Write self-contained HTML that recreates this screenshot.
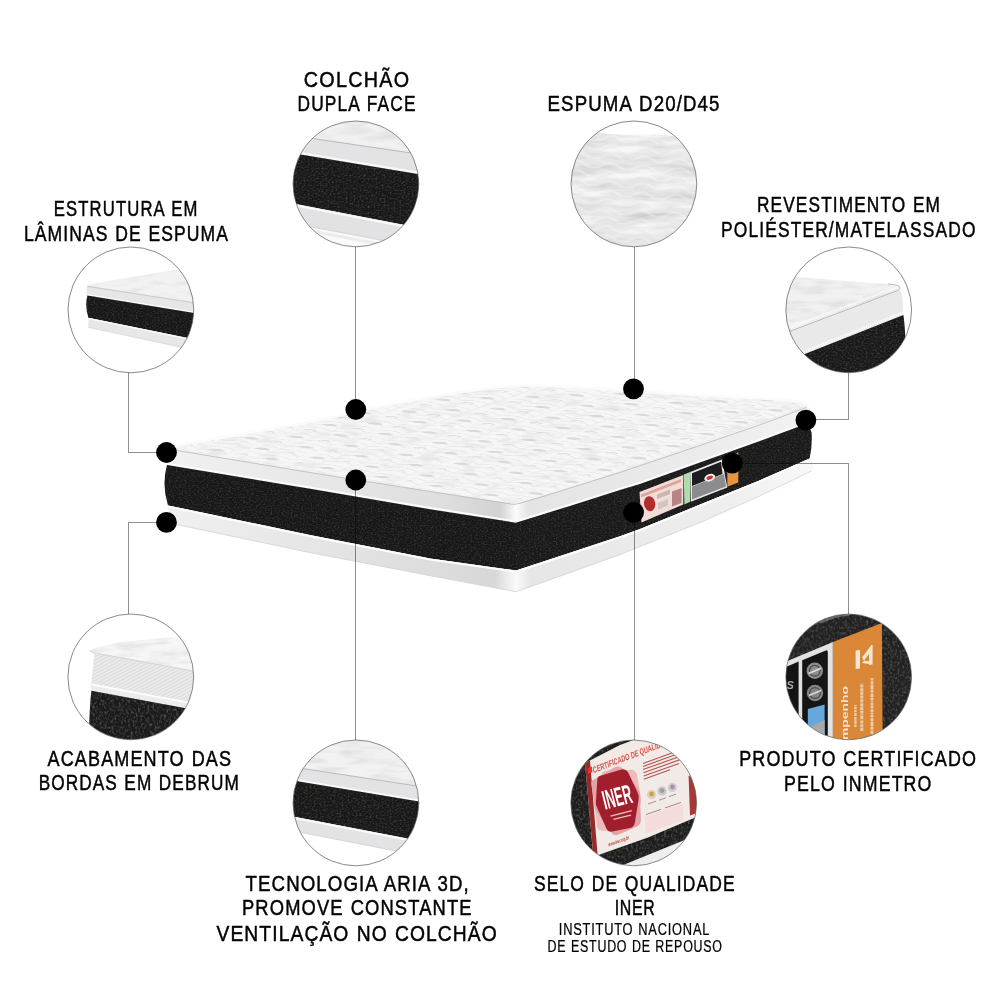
<!DOCTYPE html>
<html lang="pt-BR">
<head>
<meta charset="utf-8">
<title>Colchão</title>
<style>
html,body{margin:0;padding:0;background:#fff;}
body{width:1000px;height:1000px;overflow:hidden;}
svg{display:block;}
.lbl text{font-family:"Liberation Sans",sans-serif;fill:#000;stroke:#000;stroke-width:0.5px;}
</style>
</head>
<body>
<svg width="1000" height="1000" viewBox="0 0 1000 1000">
<rect width="1000" height="1000" fill="#fff"/>
<defs>
  <clipPath id="c1"><circle cx="355.9" cy="183.9" r="62.7"/></clipPath>
  <clipPath id="c2"><circle cx="130.9" cy="309.9" r="62.7"/></clipPath>
  <clipPath id="c3"><circle cx="633.9" cy="183.9" r="62.7"/></clipPath>
  <clipPath id="c4"><circle cx="848.7" cy="309.9" r="62.7"/></clipPath>
  <clipPath id="c5"><circle cx="130.8" cy="676.9" r="62.7"/></clipPath>
  <clipPath id="c6"><circle cx="355.9" cy="802.9" r="62.7"/></clipPath>
  <clipPath id="c7"><circle cx="633.7" cy="802.9" r="62.7"/></clipPath>
  <clipPath id="c8"><circle cx="848.7" cy="676.9" r="62.7"/></clipPath>

  <!-- woven black fabric texture -->
  <filter id="fab" x="0" y="0" width="100%" height="100%" color-interpolation-filters="sRGB">
    <feTurbulence type="fractalNoise" baseFrequency="0.55 0.7" numOctaves="2" seed="7" result="n"/>
    <feColorMatrix in="n" type="matrix" values="0 0 0 0 0.27  0 0 0 0 0.27  0 0 0 0 0.26  1.5 1.1 0 0 -1.2" result="sp"/>
    <feComposite in="sp" in2="SourceAlpha" operator="in" result="spc"/>
    <feMerge><feMergeNode in="SourceGraphic"/><feMergeNode in="spc"/></feMerge>
  </filter>
  <filter id="fabBig" x="0" y="0" width="100%" height="100%" color-interpolation-filters="sRGB">
    <feTurbulence type="fractalNoise" baseFrequency="0.5 0.6" numOctaves="2" seed="11" result="n"/>
    <feColorMatrix in="n" type="matrix" values="0 0 0 0 0.28  0 0 0 0 0.28  0 0 0 0 0.27  1.5 1.1 0 0 -1.16" result="sp"/>
    <feComposite in="sp" in2="SourceAlpha" operator="in" result="spc"/>
    <feMerge><feMergeNode in="SourceGraphic"/><feMergeNode in="spc"/></feMerge>
  </filter>
  <filter id="fabCoarse" x="0" y="0" width="100%" height="100%" color-interpolation-filters="sRGB">
    <feTurbulence type="fractalNoise" baseFrequency="0.42 0.34" numOctaves="2" seed="4" result="n"/>
    <feColorMatrix in="n" type="matrix" values="0 0 0 0 0.36  0 0 0 0 0.36  0 0 0 0 0.35  1.6 1.2 0 0 -1.28" result="sp"/>
    <feComposite in="sp" in2="SourceAlpha" operator="in" result="spc"/>
    <feMerge><feMergeNode in="SourceGraphic"/><feMergeNode in="spc"/></feMerge>
  </filter>
  <!-- quilt texture -->
  <filter id="quilt" x="0" y="0" width="100%" height="100%" color-interpolation-filters="sRGB">
    <feTurbulence type="fractalNoise" baseFrequency="0.05 0.16" numOctaves="2" seed="5" result="n"/>
    <feColorMatrix in="n" type="matrix" values="0 0 0 0 0.88  0 0 0 0 0.88  0 0 0 0 0.88  1.5 1.1 0 0 -1.3" result="sp"/>
    <feComposite in="sp" in2="SourceAlpha" operator="in" result="spc"/>
    <feMerge><feMergeNode in="SourceGraphic"/><feMergeNode in="spc"/></feMerge>
  </filter>
  <filter id="soft03" x="0" y="0" width="100%" height="100%"><feGaussianBlur stdDeviation="0.45"/></filter>
  <filter id="soft" x="-5%" y="-5%" width="110%" height="110%"><feGaussianBlur stdDeviation="0.6"/></filter>
  <filter id="soft2" x="-5%" y="-5%" width="110%" height="110%"><feGaussianBlur stdDeviation="1.2"/></filter>

  <pattern id="qp" width="56" height="36" patternUnits="userSpaceOnUse" patternTransform="matrix(0.98 0.16 -0.95 0.33 0 0)">
    <g fill="none" stroke="#e3e3e3" stroke-width="1.1">
      <path d="M0,4.5 Q14,-3.5 28,4.5 Q42,-3.5 56,4.5"/>
      <path d="M0,13.5 Q14,5.5 28,13.5 Q42,5.5 56,13.5"/>
      <path d="M0,22.5 Q14,14.5 28,22.5 Q42,14.5 56,22.5"/>
      <path d="M0,31.5 Q14,23.5 28,31.5 Q42,23.5 56,31.5"/>
    </g>
    <g stroke="#eaeaea" stroke-width="1.4"><path d="M0,0 V36 M28,0 V36"/></g>
    <path d="M7,10 Q14,3 22,8.5 Q15,14 7,10 Z" fill="#d6d6d6"/>
    <path d="M35,28 Q42,21 50,26.5 Q43,32 35,28 Z" fill="#d8d8d8"/>
    <path d="M5,27 Q10,22.5 16,25.5" stroke="#d9d9d9" stroke-width="1.6" fill="none"/>
    <path d="M36,9 Q41,4.5 47,7.5" stroke="#d9d9d9" stroke-width="1.6" fill="none"/>
  </pattern>

  <filter id="quiltBig" x="0" y="0" width="100%" height="100%" color-interpolation-filters="sRGB">
    <feTurbulence type="fractalNoise" baseFrequency="0.035 0.14" numOctaves="3" seed="9" result="n"/>
    <feColorMatrix in="n" type="matrix" values="0 0 0 0 0.87  0 0 0 0 0.87  0 0 0 0 0.87  1.7 1.3 0 0 -1.35" result="sp"/>
    <feComposite in="sp" in2="SourceAlpha" operator="in" result="spc"/>
    <feMerge><feMergeNode in="SourceGraphic"/><feMergeNode in="spc"/></feMerge>
  </filter>
  <pattern id="waves" width="34" height="9" patternUnits="userSpaceOnUse" patternTransform="rotate(4)">
    <path d="M0,6 Q8.5,0 17,6 T34,6" fill="none" stroke="#f8f8f8" stroke-width="2.2"/>
    <path d="M0,8.4 Q8.5,2.4 17,8.4 T34,8.4" fill="none" stroke="#e0e0e0" stroke-width="0.8"/>
  </pattern>
  <pattern id="twill" width="3" height="3" patternUnits="userSpaceOnUse" patternTransform="rotate(-28)">
    <rect width="3" height="3" fill="#ebebeb"/>
    <rect width="3" height="1.1" fill="#dcdcdc"/>
  </pattern>

  <filter id="ripple" x="0" y="0" width="100%" height="100%" color-interpolation-filters="sRGB">
    <feTurbulence type="fractalNoise" baseFrequency="0.018 0.11" numOctaves="3" seed="21" result="n"/>
    <feColorMatrix in="n" type="matrix" values="0 0 0 0 0.97  0 0 0 0 0.97  0 0 0 0 0.97  3.6 2.6 0 0 -3.2" result="hi"/>
    <feColorMatrix in="n" type="matrix" values="0 0 0 0 0.80  0 0 0 0 0.80  0 0 0 0 0.80  -2.6 -1.8 0 0 2.0" result="lo"/>
    <feMerge result="m"><feMergeNode in="SourceGraphic"/><feMergeNode in="lo"/><feMergeNode in="hi"/></feMerge>
    <feComposite in="m" in2="SourceAlpha" operator="in"/>
  </filter>

  <linearGradient id="bandL" gradientUnits="userSpaceOnUse" x1="166" y1="0" x2="516" y2="0">
    <stop offset="0" stop-color="#f1f1f1"/>
    <stop offset="0.35" stop-color="#e9e9e9"/>
    <stop offset="0.8" stop-color="#dedede"/>
    <stop offset="0.955" stop-color="#d2d2d2"/>
    <stop offset="1" stop-color="#fafafa"/>
  </linearGradient>
  <linearGradient id="bandR" gradientUnits="userSpaceOnUse" x1="516" y1="0" x2="812" y2="0">
    <stop offset="0" stop-color="#fafafa"/>
    <stop offset="0.04" stop-color="#e4e4e4"/>
    <stop offset="0.6" stop-color="#ebebeb"/>
    <stop offset="1" stop-color="#f2f2f2"/>
  </linearGradient>
  <linearGradient id="bandL2" gradientUnits="userSpaceOnUse" x1="166" y1="0" x2="516" y2="0">
    <stop offset="0" stop-color="#f0f0f0"/>
    <stop offset="0.4" stop-color="#e6e6e6"/>
    <stop offset="0.94" stop-color="#d8d8d8"/>
    <stop offset="1" stop-color="#fafafa"/>
  </linearGradient>
  <linearGradient id="bandR2" gradientUnits="userSpaceOnUse" x1="516" y1="0" x2="812" y2="0">
    <stop offset="0" stop-color="#fafafa"/>
    <stop offset="0.05" stop-color="#e6e6e6"/>
    <stop offset="0.7" stop-color="#eeeeee"/>
    <stop offset="1" stop-color="#f8f8f8"/>
  </linearGradient>
</defs>
<!-- mattress -->
<g id="mattress">
  <path d="M175,446 L300,424 L356,411.5 L400,402.5 L460,392 L500,387 Q524,384.5 560,386.5 L632,390.5 L700,395.5 L789,400 Q806,401.5 809,405 L806.4,407 L760,424.2 L700,444.8 L620,471.8 L540,496.8 L520,502.6 Q514,505 508,503 L430,491 L310,472 L177,450 Z" fill="#f6f6f6" filter="url(#quilt)"/>
  <path d="M175,446 L300,424 L356,411.5 L400,402.5 L460,392 L500,387 Q524,384.5 560,386.5 L632,390.5 L700,395.5 L789,400 Q806,401.5 809,405 L806.4,407 L760,424.2 L700,444.8 L620,471.8 L540,496.8 L520,502.6 Q514,505 508,503 L430,491 L310,472 L177,450 Z" fill="url(#qp)" opacity="0.9" filter="url(#soft03)"/>
  <path d="M175,446 L300,424 L356,411.5 L400,402.5 L460,392 L500,387 Q524,384.5 560,386.5 L632,390.5 L700,395.5 L789,400 Q806,401.5 809,405" fill="none" stroke="#fbfbfb" stroke-width="2.5" filter="url(#soft)"/>
  <path d="M170,449 L177,450 L310,472 L430,491 L508,503 L514,504 L516,522.7 L430,509.2 L310,488.8 L166.5,465 Q165,456 170,449 Z" fill="url(#bandL)"/>
  <path d="M514,504 L520,502.6 L540,496.8 L620,471.8 L700,444.8 L760,424.2 L806.4,406.8 Q811,408 811.5,414 L812,428 L798.4,426.8 L760,441 L700,462.4 L640,484 L620,490 L570,505.9 L516,522.7 Z" fill="url(#bandR)"/>
  <path d="M177,450.5 L310,472.5 L430,491.5 L508,503.5 Q514,505.6 520,503.20000000000005 L540,497.4 L620,472.4 L700,445.4 L760,424.8 L806.4,407.4" fill="none" stroke="#bdbdbd" stroke-width="0.9"/>
  <path d="M166.5,463.7 L310,487.5 L430,507.9 L516,521.4 L570,504.6 L620,488.7 L640,482.7 L700,461.1 L760,439.7 L798.4,425.5" fill="none" stroke="#fbfbfb" stroke-width="2"/>
  <path d="M167,465 L310,488.8 L430,509.2 L516,522.7 L516,570.5 L430,558.4 L310,535 L168,505.4 Q161.5,485 167,465 Z" fill="#171717" filter="url(#fab)"/>
  <path d="M516,522.7 L570,505.9 L620,490 L640,484 L700,462.4 L760,441 L798.4,426.8 Q810,426 811.5,432 Q812.5,445 809.6,458.4 L760,480.2 L700,504.6 L640,529 L620,536.2 L570,552.8 L516,570.5 Z" fill="#191919" filter="url(#fab)"/>
  <path d="M168,505.4 L310,535 L430,558.4 L516,570.5 L516,592.2 L430,576 L310,553 L177,525 Q168,516 168,505.4 Z" fill="url(#bandL2)"/>
  <path d="M516,570.5 L570,552.8 L620,536.2 L640,529 L700,504.6 L760,480.2 L809.6,458.4 L812,457.6 L813,468 L811.5,471.4 L760,496.3 L700,523 L620,555 L570,573 L516,592.2 Z" fill="url(#bandR2)"/>
  <path d="M168,506.6 L310,536.2 L430,559.6 L516,571.7 L570,554 L620,537.4 L640,530.2 L700,505.8 L760,481.4 L809.6,459.6" fill="none" stroke="#fcfcfc" stroke-width="2"/>
  <path d="M177,524.5 L310,552.5 L430,575.5 L516,591.7 L570,572.5 L620,554.5 L700,522.5 L760,495.8 L811.5,470.9" fill="none" stroke="#d6d6d6" stroke-width="0.8"/>
  <!-- labels on right face -->
  <g id="labels">
    <path d="M639.5,492 L683.3,475.1 L683.3,504.4 L641.5,522.6 Z" fill="#f1ddd8"/>
    <path d="M641,494.5 L681,479 L681,482 L641,497.6 Z" fill="#e2a39c"/>
    <ellipse cx="649.6" cy="503.7" rx="5.6" ry="7.6" fill="#b32c2e" transform="rotate(-8 649.6 503.7)"/>
    <path d="M672,491.6 L681.6,488 L681.6,503 L672,506.6 Z" fill="#b98484"/>
    <path d="M657,494.5 L670,489.6 L670,494 L657,499 Z" fill="#c9b6b2"/>
    <path d="M658,503 L668,499 L668,505.5 L658,509.6 Z" fill="#d2c4c0"/>
    <path d="M683.7,474.5 L690.2,471.9 L690.2,501.8 L684.4,504.4 Z" fill="#aedcaa"/>
    <path d="M690.2,471.9 L722,459.5 L727.3,487.5 L690.9,501.8 Z" fill="#e8e8e8"/>
    <path d="M692,473.2 L721,461.8 L722.5,474 L692,486 Z" fill="#1d1d1f"/>
    <path d="M692,486.6 L724,474 L726,486.6 L692,499.6 Z" fill="#8c8c8e"/>
    <ellipse cx="709.7" cy="477.7" rx="5.6" ry="3.6" fill="#f4f4f4" transform="rotate(-20 709.7 477.7)"/>
    <ellipse cx="709.7" cy="477.7" rx="3.4" ry="1.9" fill="#c8383a" transform="rotate(-20 709.7 477.7)"/>
    <path d="M727.3,456.6 L738.3,452.4 L738.3,482.6 L727.3,486.8 Z" fill="#e8943c"/>
  </g>
</g>
<!-- connector lines -->
<g fill="none" stroke="#000" stroke-opacity="0.44" stroke-width="1">
  <path d="M355.5,247 V409"/>
  <path d="M355.5,480 V740"/>
  <path d="M634.5,247 V389"/>
  <path d="M634.5,512 V740"/>
  <path d="M128.5,372.5 V452.5 H167"/>
  <path d="M128.5,614 V522.5 H167"/>
  <path d="M848.5,373 V419.5 H806"/>
  <path d="M848.5,614 V463.5 H732"/>
</g>
<!-- dots -->
<g fill="#000">
  <circle cx="166.5" cy="452.5" r="10.4"/>
  <circle cx="166.5" cy="522.4" r="10.4"/>
  <circle cx="355.8" cy="409.5" r="10.4"/>
  <circle cx="355.8" cy="480" r="10.4"/>
  <circle cx="633.5" cy="388.8" r="10.4"/>
  <circle cx="805.9" cy="420.1" r="10.4"/>
  <circle cx="732.2" cy="463.2" r="10.4"/>
  <circle cx="633.6" cy="512.3" r="10.4"/>
</g>
<!-- inset circles -->
<!-- 1: colchão dupla face -->
<g clip-path="url(#c1)">
  <rect x="290" y="118" width="132" height="132" fill="#fafafa"/>
  <path d="M290,118 H422 V154.3 L290,134.9 Z" fill="#f1f1f1" filter="url(#quiltBig)"/>
  <path d="M290,134.9 L422,154.3 V174.8 L290,152.8 Z" fill="#e3e3e5"/>
  <path d="M290,135.2 L422,154.6" stroke="#b4b4b4" stroke-width="0.9" fill="none"/>
  <path d="M290,151.4 L422,173.4" stroke="#f8f8f8" stroke-width="2.2" fill="none"/>
  <path d="M290,152.8 L422,174.8 V228.4 L290,203 Z" fill="#171717" filter="url(#fabBig)"/>
  <path d="M290,203 L422,228.4 V247.9 L290,222.8 Z" fill="#e2e2e4"/>
  <path d="M290,204.2 L422,229.6" stroke="#f9f9f9" stroke-width="2.2" fill="none"/>
  <path d="M290,222.8 L422,247.9" stroke="#cdcdcd" stroke-width="0.8" fill="none"/>
  <path d="M290,227 L422,252" stroke="#ececec" stroke-width="3" fill="none"/>
</g>
<!-- 2: estrutura em lâminas -->
<g clip-path="url(#c2)">
  <rect x="66" y="246" width="130" height="130" fill="#fff"/>
  <path d="M86.9,284.8 L120,279 L174.4,270.1 Q185,270 196,276 V302.8 L87.6,286.2 Z" fill="#f2f2f2" filter="url(#quilt)"/>
  <path d="M87,285.6 L196,302.8 V313.3 L86.6,295.3 Z" fill="#e6e6e6"/>
  <path d="M87.6,286.4 L196,303" stroke="#bcbcbc" stroke-width="0.7" fill="none"/>
  <path d="M86.6,294.6 L196,312.6" stroke="#fafafa" stroke-width="1.4" fill="none"/>
  <path d="M87.4,295.4 L196,313.3 V339.7 L88.4,317.8 Q84.6,306 87.4,295.4 Z" fill="#171717" filter="url(#fab)"/>
  <path d="M88.4,317.8 L196,339.7 V350.6 L88.3,327.5 Z" fill="#e7e7e7"/>
  <path d="M88.4,318.6 L196,340.5" stroke="#fbfbfb" stroke-width="1.4" fill="none"/>
  <path d="M88.3,327.3 L196,350.4" stroke="#d4d4d4" stroke-width="0.7" fill="none"/>
</g>
<!-- 3: espuma -->
<g clip-path="url(#c3)">
  <rect x="570" y="120" width="130" height="130" fill="#e6e6e6" filter="url(#ripple)"/>
  <rect x="570" y="120" width="130" height="130" fill="url(#waves)" opacity="0.35"/>
  <path d="M570,118 H700 V137 Q690,137.5 682,136.5 Q660,134 640,134.6 Q620,135 608,134 Q598,132.4 590,132.6 Q580,133 570,137 Z" fill="#fff"/>
</g>
<!-- 4: revestimento -->
<g clip-path="url(#c4)">
  <rect x="784" y="246" width="130" height="130" fill="#fff"/>
  <path d="M780,282 Q790,276 797.2,277.1 L835,280 L877,283.4 Q892,284 898,285.5 Q901.5,287 899.4,289.4 L790.9,330.3 L780,334 Z" fill="#f1f1f1" filter="url(#quiltBig)"/>
  <path d="M780,334 L790.9,330.3 L899.4,289.4 Q902,293 902.6,300 L903.4,314.6 L804.2,353.8 L780,363 Z" fill="#e9e9e9"/>
  <path d="M780,334.6 L790.9,330.9 L897.6,290.6 Q901.6,288.6 898.6,285.8 Q895,284.4 888,284" stroke="#b4b4b4" stroke-width="0.9" fill="none"/>
  <path d="M780,330.6 L790.9,327 L898,287" stroke="#fbfbfb" stroke-width="2.4" fill="none" stroke-dasharray="1.2 0.8"/>
  <path d="M780,360.6 L804.2,351.4 L903.2,312.4" stroke="#fbfbfb" stroke-width="2.6" fill="none" stroke-dasharray="1.4 0.9"/>
  <path d="M780,363.4 L804.2,354.2 L903.4,315 Q905,326 905.6,345 L908,380 H780 Z" fill="#181818" filter="url(#fabBig)"/>
</g>
<!-- 5: acabamento -->
<g clip-path="url(#c5)">
  <rect x="66" y="612" width="130" height="130" fill="#fff"/>
  <path d="M94.6,652 L196,668 V708 L91,686 Z" fill="url(#twill)"/>
  <path d="M89,650.4 Q100,646 117,642.7 L173,637 Q185,636 196,638 V671 L150,662.5 L110,655 Q92,653 89,650.4 Z" fill="#f6f6f6" filter="url(#quiltBig)"/>
  <path d="M89.4,651 Q93,653.4 110,655.8 L150,663.2 L196,671.6" stroke="#d2d2d2" stroke-width="0.9" fill="none"/>
  <path d="M91.4,684.4 Q90,687.4 91.6,690.4 L184,707.4 L196,709.6 V703 L186,701.6 L92.4,683.6 Z" fill="#ececec"/>
  <path d="M92,684.6 L196,704" stroke="#fdfdfd" stroke-width="1.6" fill="none"/>
  <path d="M91.4,690.8 L196,710 V745 H89.4 Q88.6,715 91.4,690.8 Z" fill="#1a1a1a" filter="url(#fabCoarse)"/>
</g>
<!-- 6: tecnologia aria 3d -->
<g clip-path="url(#c6)">
  <rect x="290" y="738" width="132" height="132" fill="#fff"/>
  <path d="M290,738 H422 V786.5 L290,766.3 Z" fill="#f2f2f2" filter="url(#quiltBig)"/>
  <path d="M290,766.3 L422,786.5 V802.1 L290,780.1 Z" fill="#e3e3e5"/>
  <path d="M290,766.6 L422,786.8" stroke="#b4b4b4" stroke-width="0.9" fill="none"/>
  <path d="M290,778.9 L422,800.9" stroke="#f9f9f9" stroke-width="2" fill="none"/>
  <path d="M290,780.1 L422,802.1 V841.4 L290,816 Z" fill="#171717" filter="url(#fabBig)"/>
  <path d="M290,816 L422,841.4 V856.1 L290,830.3 Z" fill="#e3e3e5"/>
  <path d="M290,817.2 L422,842.6" stroke="#fafafa" stroke-width="2" fill="none"/>
  <path d="M290,830.3 L422,856.1" stroke="#cfcfcf" stroke-width="0.8" fill="none"/>
</g>
<!-- 7: selo INER -->
<g clip-path="url(#c7)" opacity="0.999">
  <rect x="570" y="738" width="130" height="130" fill="#1c1c1c" filter="url(#fabCoarse)"/>
  <path d="M585,763.1 L620,745 L660,730 L700,730 V815.4 L648,837.4 L593.4,856.8 Z" fill="#f1eae7"/>
  <path d="M585,763.1 L590,760.6 L597.6,855.2 L593.4,856.8 Z" fill="#962a2b"/>
  <path d="M587.6,768.2 L591.9,766.6 L592.4,772.2 L588.1,773.8 Z" fill="#e3342f"/>
  <!-- seal -->
  <g transform="translate(617.9 800.2) rotate(-14)">
    <path d="M-13,-29 L12,-31 Q16,-31 18,-27 L23,-3 Q24,1 22,5 L12,28 Q10,32 5,32 L-15,31 Q-19,31 -20,27 L-24,2 Q-25,-2 -23,-6 L-17,-26 Q-16,-29 -13,-29 Z" fill="#ecbcbc" transform="rotate(16)"/>
    <path d="M-13,-29 L12,-31 Q16,-31 18,-27 L23,-3 Q24,1 22,5 L12,28 Q10,32 5,32 L-15,31 Q-19,31 -20,27 L-24,2 Q-25,-2 -23,-6 L-17,-26 Q-16,-29 -13,-29 Z" fill="#e3a3a6" transform="rotate(-12)"/>
    <path d="M-11,-28 L11,-29 Q15,-29 16.6,-25 L21,-3 Q22,1 20,5 L11,26 Q9,30 5,30 L-13,29 Q-17,29 -18,25 L-22,2 Q-23,-2 -21,-6 L-15,-25 Q-14,-28 -11,-28 Z" fill="#a11f2c"/>
    <text x="0" y="6" text-anchor="middle" font-family="'Liberation Sans',sans-serif" font-weight="bold" font-size="27" fill="#fff" transform="scale(0.62 1)" textLength="48" lengthAdjust="spacingAndGlyphs">INER</text>
    <path d="M-11,13.6 H11 M-9,17.6 H9" stroke="#e8c4c4" stroke-width="1.3" fill="none"/>
  </g>
  <!-- header -->
  <text transform="translate(593.6 773.2) rotate(-21) skewX(-10)" font-family="'Liberation Sans',sans-serif" font-weight="bold" font-size="8.8" fill="#d9534a" textLength="84" lengthAdjust="spacingAndGlyphs">CERTIFICADO DE QUALIDADE</text>
  <!-- text lines -->
  <g stroke="#b0423f" stroke-width="1.1" fill="none" opacity="0.9">
    <path d="M643,763.4 L683,749"/>
    <path d="M643,766.4 L683,752"/>
    <path d="M643,769.6 L681,756"/>
    <path d="M643.4,772.8 L683,758.6"/>
    <path d="M643.6,776 L679,763.4"/>
    <path d="M643.8,779.2 L670,769.8"/>
  </g>
  <!-- medals -->
  <g>
    <circle cx="651.6" cy="794.6" r="4.6" fill="#d9d2c4"/><circle cx="651.6" cy="794" r="2.4" fill="#c9a43a"/>
    <circle cx="662" cy="791" r="4.6" fill="#c9c9cc"/><circle cx="662" cy="790.6" r="2.4" fill="#9c9ca4"/>
    <circle cx="672.4" cy="787.4" r="4.6" fill="#cfcfd3"/><circle cx="672.4" cy="787" r="2.4" fill="#b08fa4"/>
    <path d="M648,804 L656,801.2 M659,800.2 L666,797.8 M669,796.6 L676,794.2" stroke="#9a8a8a" stroke-width="0.9"/>
  </g>
  <path d="M645,817 L683,803.4 L683.6,820 L645.6,833.6 Z" fill="#f4dcdc"/>
  <path d="M646,814.6 L661,809.4 M665,808 L681,802.4" stroke="#8e6a6a" stroke-width="0.8"/>
  <text transform="translate(608.6 846.6) rotate(-20) skewX(-10)" font-family="'Liberation Sans',sans-serif" font-weight="bold" font-size="5.2" fill="#b63a36" textLength="22" lengthAdjust="spacingAndGlyphs">www.iner.org.br</text>
  <!-- right red strip -->
  <path d="M688.6,776 L700,772 V812 L690,815.6 Z" fill="#a83a36"/>
  <!-- bottom white band -->
  <path d="M620.8,866 L685.8,839.6 L700,833.8 V870 H620 Z" fill="#eeeeee"/>
</g>
<!-- 8: inmetro -->
<g clip-path="url(#c8)" opacity="0.999">
  <rect x="784" y="612" width="130" height="130" fill="#212121" filter="url(#fabCoarse)"/>
  <path d="M818,622.6 Q832,614.8 850,613.2 L850,615.4 Q834,616.8 821,623.4 Z" fill="#9a9a9a" opacity="0.55" filter="url(#soft)"/>
  <!-- frame -->
  <path d="M780,664 L787.4,660.9 L832.9,642 L832.9,742 L780,742 Z" fill="#e2e2e2"/>
  <path d="M780,669.4 L798.6,661.6 L798.6,742 H780 Z" fill="#141414"/>
  <path d="M802.2,660.2 L826.4,650.2 Q827.8,650 827.8,652 V742 H802.2 Z" fill="#151515"/>
  <text x="786.6" y="689" font-family="'Liberation Sans',sans-serif" font-weight="bold" font-style="italic" font-size="11" fill="#a9a9a9">S</text>
  <circle cx="814.8" cy="670.8" r="8.2" fill="#8d8d8d"/>
  <circle cx="814.8" cy="670.8" r="5.4" fill="none" stroke="#4a4a4a" stroke-width="1.2"/>
  <path d="M808.6,673.4 L821,668.2" stroke="#e0e0e0" stroke-width="1.6"/>
  <circle cx="815" cy="693" r="8.2" fill="#858585"/>
  <circle cx="815" cy="693" r="5.4" fill="none" stroke="#4c4c4c" stroke-width="1.2"/>
  <path d="M809,695.6 L821,690.4" stroke="#d8d8d8" stroke-width="1.6"/>
  <path d="M807.8,709 L824.6,704.6 V742 H807.8 Z" fill="#66a7dc"/>
  <path d="M812,726 L824.6,720 V742 H812 Z" fill="#a9a9a9"/>
  <!-- orange -->
  <path d="M832.9,642 L881.9,623.1 L882.6,731.6 L882.6,745 H832.9 Z" fill="#db8738"/>
  <g font-family="'Liberation Sans',sans-serif" fill="#f6e3cf">
    <text transform="translate(848.4 740) rotate(-90)" font-weight="bold" font-size="9.6" textLength="54" lengthAdjust="spacingAndGlyphs">mpenho</text>
  </g>
  <g fill="none" stroke="#f3dcc4" stroke-linecap="butt" opacity="0.8">
    <path d="M855.4,727 V705" stroke-width="2.4" stroke-dasharray="2.6 0.7 3.4 0.6 2.8 0.8 3.2 0.6 2.4 0.6"/>
    <path d="M861.8,731 V683" stroke-width="3" stroke-dasharray="3 0.6 3.2 0.6 3 1.4 3.4 0.6 1 0.6 3 0.6 3.2 0.6 3 0.8 3.2 0.6 3 0.6"/>
    <path d="M872,734 V678" stroke-width="2.8" stroke-dasharray="3.6 0.6 3 0.6 4.4 0.6 3 0.6 3 0.6 1.4 0.6 2.8 0.6 3 0.6 2.2 0.6 1 0.6 3 0.6"/>
  </g>
  <path d="M855.6,650.6 L860,650 L860,668.4 L855.6,669 Z M862,657.4 L871.4,645 L872.6,645 L872.6,664.6 L869,665 L869,654 L864,660.6 Z M864,660.6 L872.6,662 L872.6,664.6 L862,663 Z" fill="#f3e4d4"/>
</g>
<g fill="none" stroke="#4a4a4a" stroke-width="0.65">
  <circle cx="355.9" cy="183.9" r="62.9"/>
  <circle cx="130.9" cy="309.9" r="62.9"/>
  <circle cx="633.9" cy="183.9" r="62.9"/>
  <circle cx="848.7" cy="309.9" r="62.9"/>
  <circle cx="130.8" cy="676.9" r="62.9"/>
  <circle cx="355.9" cy="802.9" r="62.9"/>
  <circle cx="633.7" cy="802.9" r="62.9"/>
  <circle cx="848.7" cy="676.9" r="62.9"/>
</g>

<g class="lbl" opacity="0.999">
<text transform="translate(303.75 86.75) scale(0.8671482888716737 1)" font-size="22.75" textLength="121.37" lengthAdjust="spacing" word-spacing="0.91">COLCHÃO</text>
<text transform="translate(297.50 111.25) scale(0.7624656917495694 1)" font-size="22.75" textLength="154.76" lengthAdjust="spacing" word-spacing="0.91">DUPLA FACE</text>
<text transform="translate(53.75 215.75) scale(0.7325605888644167 1)" font-size="22.75" textLength="196.23" lengthAdjust="spacing" word-spacing="0.91">ESTRUTURA EM</text>
<text transform="translate(24.00 240.75) scale(0.7715058994052642 1)" font-size="22.75" textLength="264.42" lengthAdjust="spacing" word-spacing="0.91">LÂMINAS DE ESPUMA</text>
<text transform="translate(547.50 111.25) scale(0.8202512354024624 1)" font-size="22.75" textLength="209.69" lengthAdjust="spacing" word-spacing="0.91">ESPUMA D20/D45</text>
<text transform="translate(757.00 212.00) scale(0.7585149963576822 1)" font-size="22.75" textLength="241.26" lengthAdjust="spacing" word-spacing="0.91">REVESTIMENTO EM</text>
<text transform="translate(721.00 236.60) scale(0.763442472194769 1)" font-size="22.75" textLength="333.23" lengthAdjust="spacing" word-spacing="0.91">POLIÉSTER/MATELASSADO</text>
<text transform="translate(47.50 765.50) scale(0.7931328455566338 1)" font-size="22.75" textLength="231.36" lengthAdjust="spacing" word-spacing="0.91">ACABAMENTO DAS</text>
<text transform="translate(38.75 790.00) scale(0.7555573513732102 1)" font-size="22.75" textLength="264.71" lengthAdjust="spacing" word-spacing="0.91">BORDAS EM DEBRUM</text>
<text transform="translate(245.60 891.00) scale(0.8206332795113156 1)" font-size="22.75" textLength="271.99" lengthAdjust="spacing" word-spacing="0.91">TECNOLOGIA ARIA 3D,</text>
<text transform="translate(242.00 915.30) scale(0.8070342882436076 1)" font-size="22.75" textLength="284.37" lengthAdjust="spacing" word-spacing="0.91">PROMOVE CONSTANTE</text>
<text transform="translate(216.50 940.50) scale(0.8478255087929095 1)" font-size="22.75" textLength="330.61" lengthAdjust="spacing" word-spacing="0.91">VENTILAÇÃO NO COLCHÃO</text>
<text transform="translate(534.00 890.80) scale(0.7694597276013295 1)" font-size="22.75" textLength="260.70" lengthAdjust="spacing" word-spacing="0.91">SELO DE QUALIDADE</text>
<text transform="translate(614.80 915.40) scale(0.7 1)" font-size="22.75" textLength="57.14" lengthAdjust="spacing" word-spacing="0.91">INER</text>
<text style="stroke-width:0.25px" transform="translate(558.80 935.00) scale(0.8103219785486931 1)" font-size="15.86" textLength="185.85" lengthAdjust="spacing" word-spacing="0.63">INSTITUTO NACIONAL</text>
<text style="stroke-width:0.25px" transform="translate(547.60 952.40) scale(0.7851284622165301 1)" font-size="15.86" textLength="222.13" lengthAdjust="spacing" word-spacing="0.63">DE ESTUDO DE REPOUSO</text>
<text transform="translate(739.20 766.20) scale(0.7896294581344802 1)" font-size="22.75" textLength="299.89" lengthAdjust="spacing" word-spacing="0.91">PRODUTO CERTIFICADO</text>
<text transform="translate(784.00 790.50) scale(0.7806951226089989 1)" font-size="22.75" textLength="188.81" lengthAdjust="spacing" word-spacing="0.91">PELO INMETRO</text>
</g>
</svg>
</body>
</html>
